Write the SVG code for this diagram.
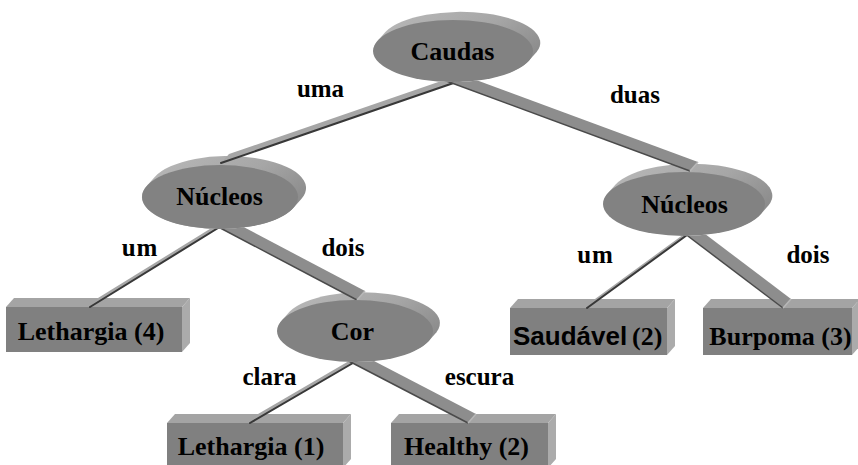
<svg xmlns="http://www.w3.org/2000/svg" width="858" height="465" viewBox="0 0 858 465">
  <defs>
    <style>
      .face { fill: #828282; }
      .rim { fill: url(#rimShade); }
      .boxFront { fill: #808080; }
      .boxTop { fill: #a4a4a4; }
      .boxSide { fill: #ababab; }
      .txt { font-weight: bold; font-size: 26px; fill: #000; text-anchor: middle; }
      .lbl { font-weight: bold; font-size: 25px; fill: #000; text-anchor: middle; }
      .thinTop { fill: #a6a6a6; }
      .thinEdge { stroke: #383838; stroke-width: 2; fill: none; stroke-linecap: round; }
      .wideTop { fill: #8d8d8d; }
      .wideEdge { stroke: #4a4a4a; stroke-width: 1.5; fill: none; }
      .cap { stroke: #b8b8b8; stroke-width: 1.5; fill: none; }
    </style>
    <linearGradient id="rimShade" x1="0" y1="0" x2="1" y2="0.6">
      <stop offset="0" stop-color="#bababa"/>
      <stop offset="0.6" stop-color="#a6a6a6"/>
      <stop offset="1" stop-color="#8a8a8a"/>
    </linearGradient>
    <!-- hides bar roots beneath the parent ellipse faces -->
    <clipPath id="underFaces">
      <path clip-rule="evenodd" d="M0 0H858V465H0Z
        M373 51a80 31 0 1 0 160 0a80 31 0 1 0 -160 0Z
        M142 197a78 32 0 1 0 156 0a78 32 0 1 0 -156 0Z
        M603 204a81 32 0 1 0 162 0a81 32 0 1 0 -162 0Z
        M277 331a78 31 0 1 0 156 0a78 31 0 1 0 -156 0Z"/>
    </clipPath>
  </defs>

  <rect width="858" height="465" fill="#ffffff"/>

  <g font-family="Liberation Serif, Times New Roman, serif">
  <!-- decision nodes: extruded ellipses -->
  <g id="node-caudas">
    <path class="rim" d="M385.4 31.9A80 31 0 0 1 536.6 52.1L528.6 61.1A80 31 0 0 1 377.4 40.9Z"/>
    <ellipse class="face" cx="453" cy="51" rx="80" ry="31"/>
    <text class="txt" x="452.5" y="60" font-family="Liberation Serif, serif">Caudas</text>
  </g>

  <g id="node-nucleos-left">
    <path class="rim" d="M154.7 177A78 32 0 0 1 301.3 199L293.3 208A78 32 0 0 1 146.7 186Z"/>
    <ellipse class="face" cx="220" cy="197" rx="78" ry="32"/>
    <text class="txt" x="219.5" y="205" font-family="Liberation Serif, serif">Núcleos</text>
  </g>

  <g id="node-nucleos-right">
    <path class="rim" d="M615.6 184.4A81 32 0 0 1 768.4 205.6L760.4 214.6A81 32 0 0 1 607.6 193.4Z"/>
    <ellipse class="face" cx="684" cy="204" rx="81" ry="32"/>
    <text class="txt" x="684.5" y="213" font-family="Liberation Serif, serif">Núcleos</text>
  </g>

  <g id="node-cor">
    <path class="rim" d="M289.5 311.7A78 31 0 0 1 436.5 332.3L428.5 341.3A78 31 0 0 1 281.5 320.7Z"/>
    <ellipse class="face" cx="355" cy="331" rx="78" ry="31"/>
    <text class="txt" x="352.5" y="340" font-family="Liberation Serif, serif">Cor</text>
  </g>

  <!-- leaf nodes: extruded boxes -->
  <g id="leaf-lethargia-4">
    <polygon class="boxTop" points="6,307 14,298 190,298 182,307"/>
    <polygon class="boxSide" points="182,307 190,298 190,343 182,352"/>
    <rect class="boxFront" x="6" y="307" width="176" height="45"/>
    <text class="txt" x="91" y="340" font-family="Liberation Serif, serif">Lethargia (4)</text>
  </g>

  <g id="leaf-lethargia-1">
    <polygon class="boxTop" points="167,423 175,414 351,414 343,423"/>
    <polygon class="boxSide" points="343,423 351,414 351,459 343,468"/>
    <rect class="boxFront" x="167" y="423" width="176" height="45"/>
    <text class="txt" x="251" y="455" font-family="Liberation Serif, serif">Lethargia (1)</text>
  </g>

  <g id="leaf-healthy-2">
    <polygon class="boxTop" points="391,423 399,414 556,414 548,423"/>
    <polygon class="boxSide" points="548,423 556,414 556,459 548,468"/>
    <rect class="boxFront" x="391" y="423" width="157" height="45"/>
    <text class="txt" x="466.5" y="455" font-family="Liberation Serif, serif">Healthy (2)</text>
  </g>

  <g id="leaf-saudavel-2">
    <polygon class="boxTop" points="510,308 518,299 675,299 667,308"/>
    <polygon class="boxSide" points="667,308 675,299 675,346 667,355"/>
    <rect class="boxFront" x="510" y="308" width="157" height="47"/>
    <text class="txt" style="text-anchor:start" font-family="Liberation Serif, serif"><tspan font-family="Liberation Sans, Arial, sans-serif" x="513" y="345">Saudável</tspan> <tspan x="632" y="345">(2)</tspan></text>
  </g>

  <g id="leaf-burpoma-3">
    <polygon class="boxTop" points="703,308 711,299 860,299 852,308"/>
    <polygon class="boxSide" points="852,308 860,299 860,346 852,355"/>
    <rect class="boxFront" x="703" y="308" width="149" height="47"/>
    <text class="txt" x="780.5" y="345" font-family="Liberation Serif, serif">Burpoma (3)</text>
  </g>

  <!-- branches: flat bars extruded by (8,-9), drawn over children, under parent faces -->
  <g id="connectors" clip-path="url(#underFaces)">
    <!-- Caudas -> Núcleos (uma) -->
    <polygon class="thinTop" points="471,77 221,163 229,154 479,68"/>
    <line class="thinEdge" x1="471" y1="77" x2="221" y2="163"/>
    <!-- Caudas -> Núcleos (duas) -->
    <polygon class="wideTop" points="441,79 690,171 698,162 449,70"/>
    <line class="wideEdge" x1="441" y1="79" x2="690" y2="171"/>
    <line class="cap" x1="690" y1="171" x2="698" y2="162"/>
    <!-- Núcleos -> Lethargia (um) -->
    <polygon class="thinTop" points="231,220 90,307 98,298 239,211"/>
    <line class="thinEdge" x1="231" y1="220" x2="90" y2="307"/>
    <!-- Núcleos -> Cor (dois) -->
    <polygon class="wideTop" points="207,221 357,300 365,291 215,212"/>
    <line class="wideEdge" x1="207" y1="221" x2="357" y2="300"/>
    <line class="cap" x1="357" y1="300" x2="365" y2="291"/>
    <!-- Cor -> Lethargia (clara) -->
    <polygon class="thinTop" points="365,356 250,423 258,414 373,347"/>
    <line class="thinEdge" x1="365" y1="356" x2="250" y2="423"/>
    <!-- Cor -> Healthy (escura) -->
    <polygon class="wideTop" points="341,357 468,423 476,414 349,348"/>
    <line class="wideEdge" x1="341" y1="357" x2="468" y2="423"/>
    <line class="cap" x1="468" y1="423" x2="476" y2="414"/>
    <!-- Núcleos -> Saudável (um) -->
    <polygon class="thinTop" points="698,227 587,308 595,299 706,218"/>
    <line class="thinEdge" x1="698" y1="227" x2="587" y2="308"/>
    <!-- Núcleos -> Burpoma (dois) -->
    <polygon class="wideTop" points="676,227 783,308 791,299 684,218"/>
    <line class="wideEdge" x1="676" y1="227" x2="783" y2="308"/>
    <line class="cap" x1="783" y1="308" x2="791" y2="299"/>
  </g>

  <!-- branch labels -->
  <g id="labels">
    <text class="lbl" x="320.5" y="97">uma</text>
    <text class="lbl" x="635" y="103">duas</text>
    <text class="lbl" x="140" y="256" letter-spacing="1">um</text>
    <text class="lbl" x="343" y="256">dois</text>
    <text class="lbl" x="595.5" y="263" letter-spacing="1">um</text>
    <text class="lbl" x="808" y="263">dois</text>
    <text class="lbl" x="269.5" y="385">clara</text>
    <text class="lbl" x="479.5" y="385">escura</text>
  </g>
  </g>
</svg>
